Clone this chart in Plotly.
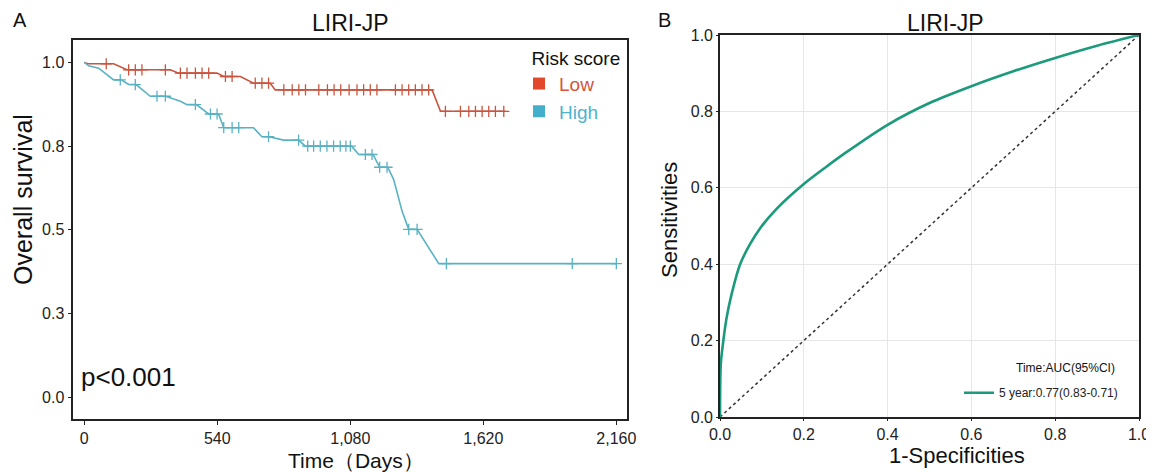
import numpy as np
import plotly.graph_objects as go

# The page body has an 8px margin, so the figure is sized to fill the rest of the window
OFF = 8
W, H = 1154 - OFF, 473 - OFF
FONT = "Liberation Sans, Arial, sans-serif"

# ---------------- Panel A: Kaplan-Meier (LIRI-JP) ----------------
x_ticks = [0, 540, 1080, 1620, 2160]
x_tick_labels = ["0", "540", "1,080", "1,620", "2,160"]
y_ticks = [0.0, 0.25, 0.5, 0.75, 1.0]
y_tick_labels = ["0.0", "0.3", "0.5", "0.8", "1.0"]

low_time = [0, 15, 119, 173, 349, 383, 539, 566, 634, 687, 755, 775, 1412, 1446, 1710]
low_surv = [1.0, 0.996, 0.996, 0.978, 0.978, 0.968, 0.968, 0.958, 0.958, 0.938, 0.938, 0.918, 0.918, 0.854, 0.854]
low_censor = [89, 180, 207, 234, 329, 390, 417, 451, 478, 505, 573, 600, 694, 721, 748,
              810, 844, 871, 898, 952, 987, 1014, 1041, 1075, 1107, 1134, 1161, 1188,
              1263, 1290, 1317, 1344, 1371, 1398, 1466, 1527, 1561, 1588, 1615, 1642, 1669, 1703]

high_time = [0, 18, 58, 119, 150, 180, 210, 268, 330, 390, 417, 455, 505, 545, 566, 687,
             721, 750, 809, 870, 897, 1085, 1114, 1172, 1199, 1232, 1256, 1290, 1317, 1351, 1439, 2160]
high_surv = [1.0, 0.990, 0.983, 0.948, 0.948, 0.934, 0.934, 0.899, 0.899, 0.884, 0.874, 0.874, 0.846, 0.846, 0.805, 0.805,
             0.778, 0.778, 0.768, 0.768, 0.750, 0.750, 0.725, 0.725, 0.687, 0.687, 0.650, 0.556, 0.5015, 0.5015, 0.399, 0.399]
high_censor = [146, 207, 295, 329, 451, 512, 539, 566, 600, 627, 748, 870, 907, 931, 958, 985,
               1012, 1039, 1062, 1080, 1141, 1168, 1199, 1229, 1317, 1351, 1470, 1981, 2160]

groups = ["Low", "High"]
p_text = "p<0.001"

# ---------------- Panel B: time-dependent ROC ----------------
roc_fpr = [0, 0.0005, 0.002, 0.008, 0.016, 0.028, 0.048, 0.072, 0.095, 0.135, 0.2, 0.25, 0.3,
           0.4, 0.5, 0.6, 0.7, 0.8, 0.9, 1.0]
roc_tpr = [0, 0.08, 0.14, 0.2, 0.261, 0.323, 0.4, 0.453, 0.493, 0.545, 0.61, 0.652, 0.692,
           0.765, 0.822, 0.866, 0.905, 0.94, 0.972, 1.0]
diag_x = [0, 1]
diag_y = [0, 1]
roc_label = "5 year:0.77(0.83-0.71)"
roc_legend_title = "Time:AUC(95%CI)"

LOW_LINE, HIGH_LINE = "#c9553f", "#58b2c2"
LOW_BOX, HIGH_BOX = "#e2492c", "#43afcb"
LOW_TXT, HIGH_TXT = "#d4553d", "#4fb3cc"
ROC_COL = "#1c9a7c"


def px(x):
    return (x - OFF) / W


def py(y):
    return 1 - (y - OFF) / H


fig = go.Figure()

# KM curves
for t, s, c, col in [(low_time, low_surv, low_censor, LOW_LINE),
                     (high_time, high_surv, high_censor, HIGH_LINE)]:
    fig.add_trace(go.Scatter(x=t, y=s, mode="lines", line=dict(color=col, width=1.6),
                             xaxis="x", yaxis="y", showlegend=False, hoverinfo="skip"))
    cy = np.interp(c, t, s)
    fig.add_trace(go.Scatter(x=c, y=cy, mode="markers", xaxis="x", yaxis="y",
                             marker=dict(symbol="cross-thin", size=8, line=dict(color=col, width=1.3)),
                             showlegend=False, hoverinfo="skip"))

# KM legend entries
for g, box, txt in [(groups[0], LOW_BOX, LOW_TXT), (groups[1], HIGH_BOX, HIGH_TXT)]:
    fig.add_trace(go.Scatter(x=[None], y=[None], mode="markers", xaxis="x", yaxis="y",
                             marker=dict(symbol="square", size=16, color=box),
                             name=f"<span style='color:{txt}'>{g}</span>", legend="legend"))

# ROC
fig.add_trace(go.Scatter(x=diag_x, y=diag_y, mode="lines", xaxis="x2", yaxis="y2",
                         line=dict(color="#333333", width=1.5, dash="dot"),
                         showlegend=False, hoverinfo="skip"))
fig.add_trace(go.Scatter(x=roc_fpr, y=roc_tpr, mode="lines", xaxis="x2", yaxis="y2",
                         line=dict(color=ROC_COL, width=2.6, shape="spline", smoothing=0.8),
                         name=roc_label, legend="legend2"))


def axis_common(tl):
    return dict(showline=True, mirror=True, linecolor="#222222", linewidth=1.6,
                ticks="outside", ticklen=tl, tickcolor="#222222", zeroline=False,
                automargin=False,
                tickfont=dict(family=FONT, size=16, color="#222222"))


fig.update_layout(
    width=W, height=H,
    margin=dict(l=0, r=0, t=0, b=0, pad=0, autoexpand=False),
    paper_bgcolor="white", plot_bgcolor="white",
    font=dict(family=FONT, color="#111111"),
    xaxis=dict(domain=[px(73.3), px(626.7)], range=[-44.7, 2202], tickvals=x_ticks,
               ticktext=x_tick_labels, showgrid=False, anchor="y", **axis_common(4)),
    yaxis=dict(domain=[py(419), py(40)], range=[-0.065, 1.067], tickvals=y_ticks,
               ticktext=y_tick_labels, showgrid=False, anchor="x", **axis_common(4)),
    xaxis2=dict(domain=[px(720), px(1139)], range=[0, 1], dtick=0.2, tick0=0, tickformat=".1f",
                showgrid=True, gridcolor="#e6e6e6", gridwidth=1, anchor="y2", **axis_common(2)),
    yaxis2=dict(domain=[py(417), py(35)], range=[0, 1], dtick=0.2, tick0=0, tickformat=".1f",
                showgrid=True, gridcolor="#e6e6e6", gridwidth=1, anchor="x2", **axis_common(2)),
    legend=dict(x=px(519), y=py(40), xanchor="left", yanchor="top",
                bgcolor="rgba(0,0,0,0)", font=dict(family=FONT, size=19),
                title=dict(text="\u00a0\u00a0Risk score", font=dict(family=FONT, size=19, color="#111111")),
                tracegroupgap=0, itemsizing="constant"),
    legend2=dict(x=px(959), y=py(392.7), xanchor="left", yanchor="middle",
                 bgcolor="rgba(0,0,0,0)", font=dict(family=FONT, size=12, color="#222222")),
)

ann = [
    dict(text="A", x=px(11), y=py(20), size=20, xanchor="left"),
    dict(text="B", x=px(656), y=py(20), size=20, xanchor="left"),
    dict(text="LIRI-JP", x=px(350), y=py(23), size=23),
    dict(text="LIRI-JP", x=px(945), y=py(23.5), size=23),
    dict(text=p_text, x=px(79), y=py(377), size=26, xanchor="left"),
    dict(text="Overall survival", x=px(23), y=py(200), size=25, angle=-90),
    dict(text="Time（Days）", x=px(356), y=py(460), size=21),
    dict(text="Sensitivities", x=px(669), y=py(220), size=22, angle=-90),
    dict(text="1-Specificities", x=px(957), y=py(455), size=22),
    dict(text=roc_legend_title, x=px(1065), y=py(368), size=12),
]
for a in ann:
    fig.add_annotation(text=a["text"], x=a["x"], y=a["y"], xref="paper", yref="paper",
                       xanchor=a.get("xanchor", "center"), yanchor="middle",
                       textangle=a.get("angle", 0), showarrow=False,
                       font=dict(family=FONT, size=a["size"], color="#111111"))

fig.write_html("out.html")
